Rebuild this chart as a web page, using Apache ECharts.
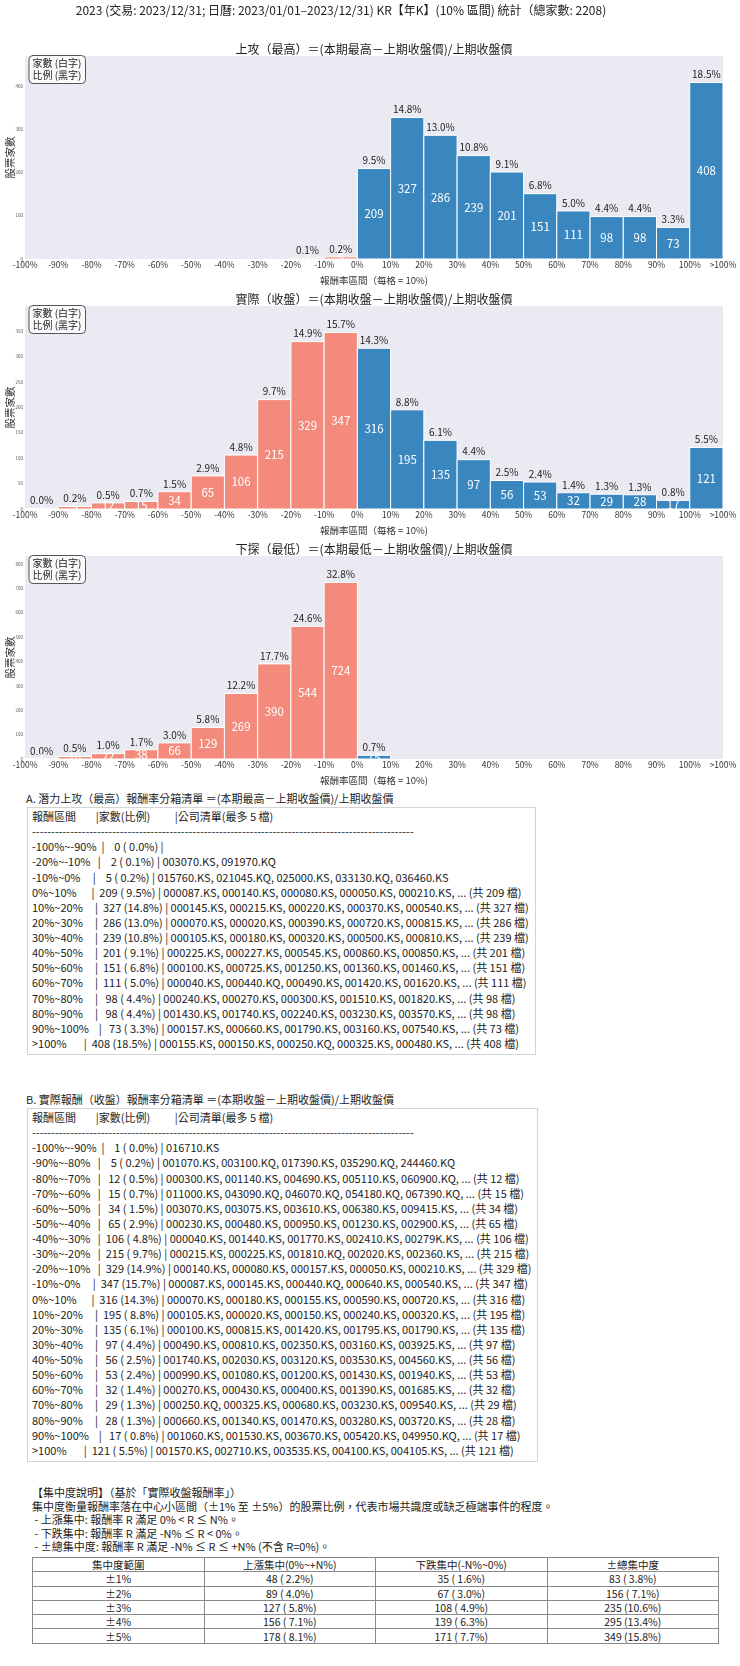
<!DOCTYPE html>
<html><head><meta charset="utf-8">
<script src="https://cdn.jsdelivr.net/npm/echarts@6/dist/echarts.min.js"></script>
<style>
html,body{margin:0;padding:0;background:#fff;}
body{width:740px;height:1666px;position:relative;overflow:hidden;font-family:"Noto Sans CJK TC","Noto Sans",sans-serif;color:#222;}
#chart{position:absolute;left:0;top:0;width:740px;height:790px;}
.stitle{position:absolute;left:26px;font-size:11px;line-height:15px;white-space:pre;}
.box{position:absolute;left:27px;border:1px solid #d4d4d4;font-size:11px;line-height:15.13px;white-space:pre;padding:1px 6px 3px 4px;background:#fff;}
#conc{position:absolute;left:32px;top:1486px;font-size:11px;line-height:13.5px;white-space:pre;}
#ctab{position:absolute;left:32px;top:1557px;width:687px;border-collapse:collapse;font-size:10.5px;table-layout:fixed;}
#ctab td{border:1px solid #8a8a8a;height:13.3px;line-height:13px;text-align:center;padding:0;white-space:pre;}
</style>
</head><body>
<div id="chart"></div>
<div class="stitle" id="titleA" style="top:791px"></div>
<div class="box" id="boxA" style="top:807px"></div>
<div class="stitle" id="titleB" style="top:1092px"></div>
<div class="box" id="boxB" style="top:1108px"></div>
<div id="conc"></div>
<table id="ctab"></table>
<script>
// ---------------- data ----------------
const binStarts = [-100,-90,-80,-70,-60,-50,-40,-30,-20,-10,0,10,20,30,40,50,60,70,80,90,100];
const xTickLabels = ['-100%','-90%','-80%','-70%','-60%','-50%','-40%','-30%','-20%','-10%','0%','10%','20%','30%','40%','50%','60%','70%','80%','90%','100%','>100%'];
const binNames = ['-100%~-90%','-90%~-80%','-80%~-70%','-70%~-60%','-60%~-50%','-50%~-40%','-40%~-30%','-30%~-20%','-20%~-10%','-10%~0%','0%~10%','10%~20%','20%~30%','30%~40%','40%~50%','50%~60%','60%~70%','70%~80%','80%~90%','90%~100%','>100%'];

const upCounts = [0,0,0,0,0,0,0,0,2,5,209,327,286,239,201,151,111,98,98,73,408];
const upPct    = [0,0,0,0,0,0,0,0,0.1,0.2,9.5,14.8,13.0,10.8,9.1,6.8,5.0,4.4,4.4,3.3,18.5];
const closeCounts = [1,5,12,15,34,65,106,215,329,347,316,195,135,97,56,53,32,29,28,17,121];
const closePct    = [0.0,0.2,0.5,0.7,1.5,2.9,4.8,9.7,14.9,15.7,14.3,8.8,6.1,4.4,2.5,2.4,1.4,1.3,1.3,0.8,5.5];
const lowCounts = [1,10,22,38,66,129,269,390,544,724,15,0,0,0,0,0,0,0,0,0,0];
const lowPct    = [0.0,0.5,1.0,1.7,3.0,5.8,12.2,17.7,24.6,32.8,0.7,0,0,0,0,0,0,0,0,0,0];

const mainTitle = '2023 (交易: 2023/12/31; 日曆: 2023/01/01–2023/12/31) KR【年K】(10% 區間) 統計（總家數: 2208)';
const chartTitles = ['上攻（最高）＝(本期最高－上期收盤價)/上期收盤價','實際（收盤）＝(本期收盤－上期收盤價)/上期收盤價','下探（最低）＝(本期最低－上期收盤價)/上期收盤價'];
const xName = '報酬率區間（每格 = 10%)';
const yName = '股票家數';
const legendLines = ['家數 (白字)', '比例 (黑字)'];
const yIntervals = [100, 50, 100];

// list A (upside, only bins shown)
const listARows = ['-100%~-90%','-20%~-10%','-10%~0%','0%~10%','10%~20%','20%~30%','30%~40%','40%~50%','50%~60%','60%~70%','70%~80%','80%~90%','90%~100%','>100%'];
const listACounts = [0,2,5,209,327,286,239,201,151,111,98,98,73,408];
const listAPct = [0.0,0.1,0.2,9.5,14.8,13.0,10.8,9.1,6.8,5.0,4.4,4.4,3.3,18.5];
const listACos = [
 [],
 ['003070.KS','091970.KQ'],
 ['015760.KS','021045.KQ','025000.KS','033130.KQ','036460.KS'],
 ['000087.KS','000140.KS','000080.KS','000050.KS','000210.KS'],
 ['000145.KS','000215.KS','000220.KS','000370.KS','000540.KS'],
 ['000070.KS','000020.KS','000390.KS','000720.KS','000815.KS'],
 ['000105.KS','000180.KS','000320.KS','000500.KS','000810.KS'],
 ['000225.KS','000227.KS','000545.KS','000860.KS','000850.KS'],
 ['000100.KS','000725.KS','001250.KS','001360.KS','001460.KS'],
 ['000040.KS','000440.KQ','000490.KS','001420.KS','001620.KS'],
 ['000240.KS','000270.KS','000300.KS','001510.KS','001820.KS'],
 ['001430.KS','001740.KS','002240.KS','003230.KS','003570.KS'],
 ['000157.KS','000660.KS','001790.KS','003160.KS','007540.KS'],
 ['000155.KS','000150.KS','000250.KQ','000325.KS','000480.KS']
];
// list B (close)
const listBCos = [
 ['016710.KS'],
 ['001070.KS','003100.KQ','017390.KS','035290.KQ','244460.KQ'],
 ['000300.KS','001140.KS','004690.KS','005110.KS','060900.KQ'],
 ['011000.KS','043090.KQ','046070.KQ','054180.KQ','067390.KQ'],
 ['003070.KS','003075.KS','003610.KS','006380.KS','009415.KS'],
 ['000230.KS','000480.KS','000950.KS','001230.KS','002900.KS'],
 ['000040.KS','001440.KS','001770.KS','002410.KS','00279K.KS'],
 ['000215.KS','000225.KS','001810.KQ','002020.KS','002360.KS'],
 ['000140.KS','000080.KS','000157.KS','000050.KS','000210.KS'],
 ['000087.KS','000145.KS','000440.KQ','000640.KS','000540.KS'],
 ['000070.KS','000180.KS','000155.KS','000590.KS','000720.KS'],
 ['000105.KS','000020.KS','000150.KS','000240.KS','000320.KS'],
 ['000100.KS','000815.KS','001420.KS','001795.KS','001790.KS'],
 ['000490.KS','000810.KS','002350.KS','003160.KS','003925.KS'],
 ['001740.KS','002030.KS','003120.KS','003530.KS','004560.KS'],
 ['000990.KS','001080.KS','001200.KS','001430.KS','001940.KS'],
 ['000270.KS','000430.KS','000400.KS','001390.KS','001685.KS'],
 ['000250.KQ','000325.KS','000680.KS','003230.KS','009540.KS'],
 ['000660.KS','001340.KS','001470.KS','003280.KS','003720.KS'],
 ['001060.KS','001530.KS','003670.KS','005420.KS','049950.KQ'],
 ['001570.KS','002710.KS','003535.KS','004100.KS','004105.KS']
];

const concRanges = ['±1%','±2%','±3%','±4%','±5%'];
const concUpCount = [48,89,127,156,178];
const concUpPct = [2.2,4.0,5.8,7.1,8.1];
const concDownCount = [35,67,108,139,171];
const concDownPct = [1.6,3.0,4.9,6.3,7.7];
const concTotCount = [83,156,235,295,349];
const concTotPct = [3.8,7.1,10.6,13.4,15.8];
const concHeaders = ['集中度範圍','上漲集中(0%~+N%)','下跌集中(-N%~0%)','±總集中度'];
const concText = [
 '【集中度說明】（基於「實際收盤報酬率」）',
 '集中度衡量報酬率落在中心小區間（±1% 至 ±5%）的股票比例，代表市場共識度或缺乏極端事件的程度。',
 ' - 上漲集中: 報酬率 R 滿足 0% < R ≤ N%。',
 ' - 下跌集中: 報酬率 R 滿足 -N% ≤ R < 0%。',
 ' - ±總集中度: 報酬率 R 滿足 -N% ≤ R ≤ +N% (不含 R=0%)。'
];

// ---------------- chart ----------------
const FONT = '"Noto Sans CJK TC","Noto Sans",sans-serif';
const SALMON = '#F38A7C', BLUE = '#3A87C0', BG = '#EAEAF2';
const gridTops = [56, 306, 556], gridH = 203, gridL = 25, gridR = 17;
const countsAll = [upCounts, closeCounts, lowCounts];
const pctAll = [upPct, closePct, lowPct];

function renderBar(params, api){
  const x0 = api.value(0), x1 = api.value(1), c = api.value(2), p = api.value(3);
  if (!(c > 0)) return {type:'group', children:[]};
  const tl = api.coord([x0, c]), br = api.coord([x1, 0]);
  const cx = (tl[0] + br[0]) / 2;
  return {type:'group', children:[
    {type:'rect', shape:{x:tl[0], y:tl[1], width:br[0]-tl[0], height:br[1]-tl[1]},
     style:{fill: x0 < 0 ? SALMON : BLUE, stroke:'#fff', lineWidth:1}},
    {type:'text', x:cx, y:tl[1]-3, style:{text:p.toFixed(1)+'%', align:'center', verticalAlign:'bottom', font:'10px '+FONT, fill:'#222'}},
    {type:'text', x:cx, y:(tl[1]+br[1])/2, style:{text:String(c), align:'center', verticalAlign:'middle', font:'11.5px '+FONT, fill:'#fff'}}
  ]};
}

const grids = [], xAxes = [], yAxes = [], series = [], graphics = [];
graphics.push({type:'text', x:341, y:10, style:{text:mainTitle, align:'center', verticalAlign:'middle', font:'12px '+FONT, fill:'#222'}});
for (let i = 0; i < 3; i++) {
  const top = gridTops[i];
  grids.push({left:gridL, right:gridR, top:top, height:gridH, show:true, backgroundColor:BG, borderWidth:0, containLabel:false});
  xAxes.push({gridIndex:i, type:'value', min:-100, max:110, interval:10,
    axisLine:{show:false}, axisTick:{show:false}, splitLine:{show:false},
    axisLabel:{fontSize:8.5, color:'#333', margin:2, fontFamily:FONT, showMinLabel:true, showMaxLabel:true,
      formatter:v => xTickLabels[Math.round((v + 100) / 10)] || ''}});
  const mx = Math.max.apply(null, countsAll[i]) * 1.15;
  yAxes.push({gridIndex:i, type:'value', min:0, max:mx, interval:yIntervals[i],
    axisLine:{show:false}, axisTick:{show:false}, splitLine:{show:false},
    axisLabel:{fontSize:4.5, color:'#555', margin:2, showMaxLabel:false, fontFamily:FONT}});
  series.push({type:'custom', xAxisIndex:i, yAxisIndex:i, renderItem:renderBar, clip:false,
    encode:{x:[0,1], y:2},
    data: binStarts.map((s, k) => [s, s + 10, countsAll[i][k], pctAll[i][k]])});
  graphics.push({type:'text', x:374, y:top-7, style:{text:chartTitles[i], align:'center', verticalAlign:'middle', font:'12px '+FONT, fill:'#222'}});
  graphics.push({type:'text', x:374, y:top+gridH+21, style:{text:xName, align:'center', verticalAlign:'middle', font:'9.5px '+FONT, fill:'#333'}});
  graphics.push({type:'text', x:10, y:top+gridH/2, rotation:Math.PI/2, style:{text:yName, align:'center', verticalAlign:'middle', font:'10.5px '+FONT, fill:'#333'}});
  graphics.push({type:'rect', shape:{x:29, y:top-0.5, width:56.5, height:28, r:4}, style:{fill:'rgba(255,255,255,0.8)', stroke:'#555', lineWidth:1}});
  graphics.push({type:'text', x:32.5, y:top+7, style:{text:legendLines[0], align:'left', verticalAlign:'middle', font:'10px '+FONT, fill:'#222'}});
  graphics.push({type:'text', x:32.5, y:top+19.5, style:{text:legendLines[1], align:'left', verticalAlign:'middle', font:'10px '+FONT, fill:'#222'}});
}

const chart = echarts.init(document.getElementById('chart'), null, {renderer:'canvas'});
chart.setOption({animation:false, grid:grids, xAxis:xAxes, yAxis:yAxes, series:series, graphic:graphics});

// ---------------- text sections ----------------
function fmtRow(label, count, pct, cos){
  let s = label.padEnd(12) + '|' + String(count).padStart(5) + ' (' + pct.toFixed(1).padStart(4) + '%) |';
  if (cos.length) {
    s += ' ' + cos.join(', ');
    if (count > cos.length) s += ', ... (共 ' + count + ' 檔)';
  }
  return s;
}
const header = '報酬區間'.padEnd(12) + '|' + '家數(比例)'.padEnd(16) + '|公司清單(最多 5 檔)';
const dashes = '-'.repeat(100);
document.getElementById('titleA').textContent = 'A. 潛力上攻（最高）報酬率分箱清單 ＝(本期最高－上期收盤價)/上期收盤價';
document.getElementById('titleB').textContent = 'B. 實際報酬（收盤）報酬率分箱清單 ＝(本期收盤－上期收盤價)/上期收盤價';
document.getElementById('boxA').textContent = [header, dashes].concat(listARows.map((l, k) => fmtRow(l, listACounts[k], listAPct[k], listACos[k]))).join('\n');
document.getElementById('boxB').textContent = [header, dashes].concat(binNames.map((l, k) => fmtRow(l, closeCounts[k], closePct[k], listBCos[k]))).join('\n');
document.getElementById('conc').textContent = concText.join('\n');

const f = (c, p) => c + ' (' + p.toFixed(1).padStart(4) + '%)';
let html = '<tr>' + concHeaders.map(h => '<td>' + h + '</td>').join('') + '</tr>';
for (let k = 0; k < concRanges.length; k++) {
  html += '<tr><td>' + concRanges[k] + '</td><td>' + f(concUpCount[k], concUpPct[k]) + '</td><td>' +
    f(concDownCount[k], concDownPct[k]) + '</td><td>' + f(concTotCount[k], concTotPct[k]) + '</td></tr>';
}
document.getElementById('ctab').innerHTML = html;
</script>
</body></html>
